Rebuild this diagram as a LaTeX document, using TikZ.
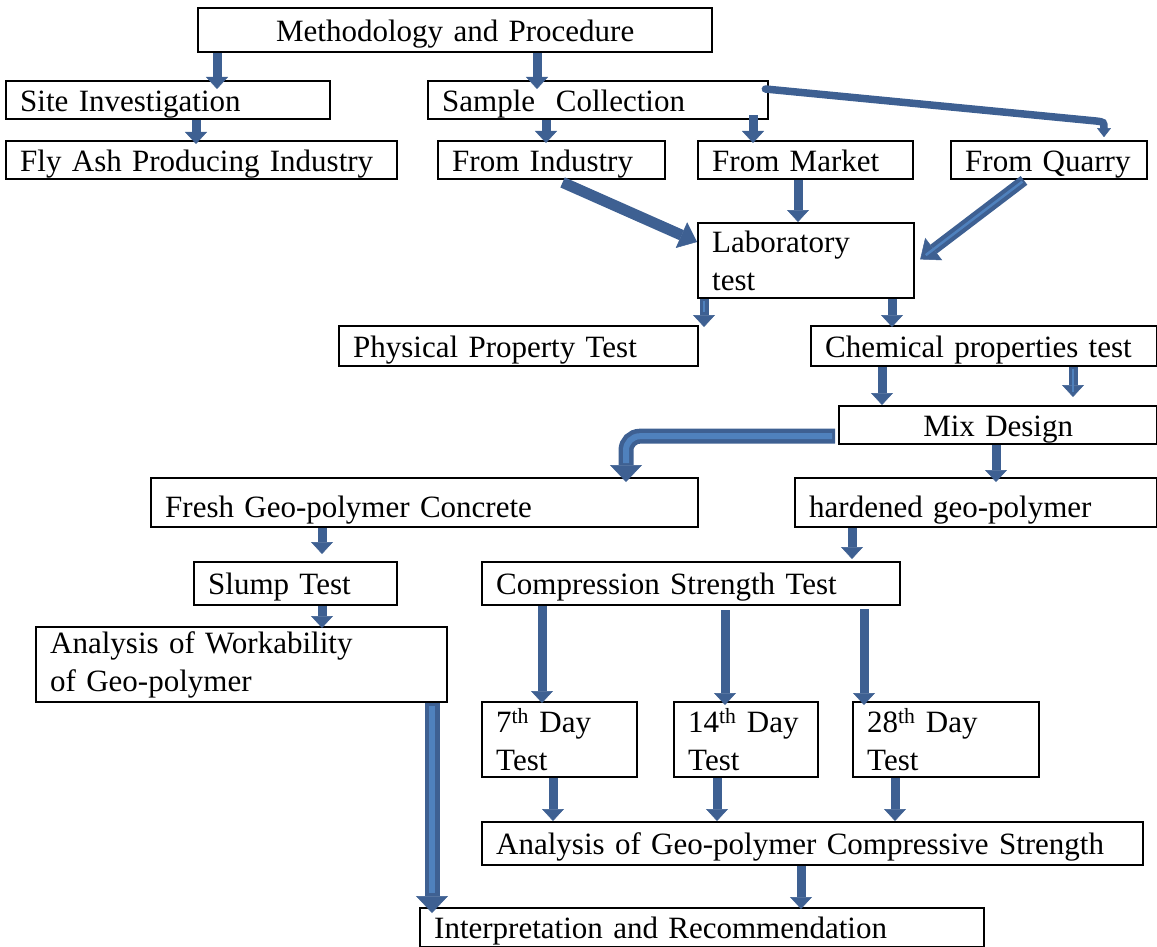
\documentclass[tikz,border=0pt]{standalone}
\usepackage{fontspec}
\setmainfont{Liberation Serif}
\usetikzlibrary{arrows.meta}
\definecolor{arrowblue}{RGB}{62,96,146}
\definecolor{lightblue}{RGB}{79,129,189}

\begin{document}
\begin{tikzpicture}[
    x = 1pt, y = -1pt,
    font = \fontsize{31}{37.5}\selectfont,
    frame/.style 2 args = {
      draw, line width = 2.4pt, anchor = north west, align = left,
      inner xsep = 14pt, inner ysep = 0pt,
      text width = #1, minimum height = #2,
    },
    box/.style 2 args = {frame = {#1}{#2}, text height = 28pt, text depth = 6pt},
    arrow/.style = {
      draw = arrowblue, line width = 9pt,
      -{Triangle[width = 22pt, length = 12pt, line width = 0.5pt]},
    },
    big arrow/.style = {
      draw = arrowblue, line width = 11pt,
      -{Triangle[width = 28pt, length = 17pt, line width = 0.5pt]},
    },
    lined/.style = {
      postaction = {draw = lightblue, line width = 2.5pt, -,
        shorten < = 2pt, shorten > = 13pt},
    },
    wide arrow/.style = {
      draw = arrowblue, line width = 15pt,
      -{Triangle[width = 32pt, length = 17pt, line width = 0.5pt]},
      postaction = {draw = lightblue, line width = 6pt, -,
        shorten < = 3pt, shorten > = 14pt},
    },
  ]
  \useasboundingbox (0,0) rectangle (1157,947);

  % boxes
  \node[box = {486pt}{44pt}, align = center] (meth) at (197,7) {Methodology and Procedure};
  \node[box = {296pt}{38pt}] (site) at (5,80) {Site Investigation};
  \node[box = {312pt}{38pt}] (sample) at (427,80) {Sample\ \ Collection};
  \node[box = {363pt}{38pt}] (fly) at (5,140) {Fly Ash Producing Industry};
  \node[box = {199pt}{38pt}] (industry) at (437,140) {From Industry};
  \node[box = {187pt}{38pt}] (market) at (697,140) {From Market};
  \node[box = {168pt}{38pt}] (quarry) at (950,140) {From Quarry};

  \node[frame = {188pt}{75pt}] (lab) at (697,222) {Laboratory\\test};
  \node[box = {331pt}{40pt}] (physical) at (338,325) {Physical Property Test};
  \node[box = {318pt}{40pt}] (chemical) at (810,325) {Chemical properties test};
  \node[box = {290pt}{38pt}, align = center] (mix) at (838,405) {Mix Design};

  \node[frame = {519pt}{49pt}, text height = 36pt, text depth = 7pt] (fresh) at (150,477) {Fresh Geo-polymer Concrete};
  \node[frame = {334pt}{49pt}, text height = 36pt, text depth = 7pt] (hardened) at (794,477) {hardened geo-polymer};
  \node[box = {175pt}{43pt}] (slump) at (193,561) {Slump Test};
  \node[box = {390pt}{43pt}] (compression) at (481,561) {Compression Strength Test};
  \node[frame = {383pt}{75pt}] (workability) at (35,626) {Analysis of Workability\\of Geo-polymer};

  \node[frame = {127pt}{75pt}] (day7) at (481,701) {7\textsuperscript{th} Day\\Test};
  \node[frame = {116pt}{75pt}] (day14) at (673,701) {14\textsuperscript{th} Day\\Test};
  \node[frame = {158pt}{75pt}] (day28) at (852,701) {28\textsuperscript{th} Day\\Test};
  \node[box = {633pt}{43pt}] (analysis) at (481,821) {Analysis of Geo-polymer Compressive Strength};
  \node[box = {536pt}{39pt}] (interp) at (419,907) {Interpretation and Recommendation};

  % arrows
  \begin{scope}[arrow]
    \draw[shorten > = -9pt] (217,0 |- meth.south) -- (217,0 |- site.north);
    \draw[shorten > = -9pt] (537,0 |- meth.south) -- (537,0 |- sample.north);
    \draw[shorten > = -4pt] (196,0 |- site.south) -- (196,0 |- fly.north);
    \draw[shorten > = -3pt] (546,0 |- sample.south) -- (546,0 |- industry.north);
    \draw[shorten < = -5pt, shorten > = -3pt] (753,0 |- sample.south) -- (753,0 |- market.north);
    \draw (798,0 |- market.south) -- (798,0 |- lab.north);

    \draw[lined, shorten > = -2pt] (704,0 |- lab.south) -- (704,0 |- physical.north);
    \draw[shorten > = -2pt] (892,0 |- lab.south) -- (892,0 |- chemical.north);
    \draw (882,0 |- chemical.south) -- (882,0 |- mix.north);
    \draw[lined, shorten > = 8pt] (1073,0 |- chemical.south) -- (1073,0 |- mix.north);
    \draw[shorten > = -5pt] (996,0 |- mix.south) -- (996,0 |- hardened.north);

    \draw[shorten > = 7pt] (322,0 |- fresh.south) -- (322,0 |- slump.north);
    \draw[shorten > = 2pt] (852,0 |- hardened.south) -- (852,0 |- compression.north);
    \draw[shorten > = -2pt] (322,0 |- slump.south) -- (322,0 |- workability.north);
    \draw[shorten > = -2pt] (542,0 |- compression.south) -- (542,0 |- day7.north);
    \draw[shorten < = 4pt, shorten > = -4pt] (725,0 |- compression.south) -- (725,0 |- day14.north);
    \draw[shorten < = 3pt, shorten > = -4pt] (864,0 |- compression.south) -- (864,0 |- day28.north);

    \draw (553,0 |- day7.south) -- (553,0 |- analysis.north);
    \draw (717,0 |- day14.south) -- (717,0 |- analysis.north);
    \draw (895,0 |- day28.south) -- (895,0 |- analysis.north);
    \draw[shorten > = -2pt] (801,0 |- analysis.south) -- (801,0 |- interp.north);
  \end{scope}

  \draw[big arrow, shorten < = 5pt] (558,0 |- industry.south) -- (lab.west |- 0,242);
  \draw[big arrow, lined, shorten > = 6pt] (1024,0 |- quarry.south) -- (lab.east |- 0,263);

  \draw[draw = arrowblue, line width = 7.5pt, line cap = round, shorten > = 3pt,
    -{Triangle[width = 14pt, length = 9pt, round, line width = 0.5pt]}]
    ([xshift = -4pt, yshift = -9pt]sample.north east) -- (1096,121)
    .. controls (1104,122) .. (1104,0 |- quarry.north);

  \draw[wide arrow, rounded corners = 14pt, shorten > = -5pt]
    ([xshift = -3pt, yshift = -11pt]mix.west) -| (626,0 |- fresh.north);
  \draw[wide arrow, shorten > = -6pt] (432,0 |- workability.south) -- (432,0 |- interp.north);
\end{tikzpicture}
\end{document}
